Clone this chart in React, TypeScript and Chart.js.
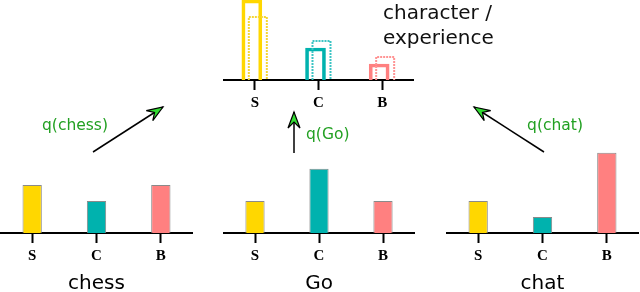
import React, { useEffect, useRef } from "react";
import { Chart, registerables } from "chart.js";

Chart.register(...registerables);

// ---- data ----
const categories = ["S", "C", "B"];
const chessValues = [3, 2, 3];
const goValues = [2, 4, 2];
const chatValues = [2, 1, 5];
const characterValues = [5, 2, 1];
const experienceValues = [4, 2.5, 1.5];
const panelTitles = ["chess", "Go", "chat"];
const queryLabels = ["q(chess)", "q(Go)", "q(chat)"];
const topLabelLines = ["character /", "experience"];

// ---- styles ----
const fillColors = ["#FFD700", "#00B2AE", "#FF8080"];
const lightColors = ["#F5D634", "#3CC4C4", "#FF9494"];
const greenText = "#22A022";
const arrowFill = "#33DD33";
const pairShift = 0.047; // horizontal shift of the two outline bars within a category

const dottedOutline = {
  id: "dottedOutline",
  afterDatasetsDraw(chart: any) {
    const ctx = chart.ctx;
    chart.data.datasets.forEach((ds: any, i: number) => {
      if (!ds.dotted) return;
      const meta = chart.getDatasetMeta(i);
      meta.data.forEach((bar: any, j: number) => {
        const { x, y, base, width } = bar.getProps(["x", "y", "base", "width"], true);
        const half = width / 2;
        ctx.save();
        ctx.strokeStyle = ds.dottedColors[j];
        ctx.lineWidth = 2;
        ctx.setLineDash([2, 1]);
        ctx.beginPath();
        ctx.moveTo(x - half + 1, base);
        ctx.lineTo(x - half + 1, y + 1);
        ctx.lineTo(x + half - 1, y + 1);
        ctx.lineTo(x + half - 1, base);
        ctx.stroke();
        ctx.restore();
      });
    });
  },
};

const xGrid = {
  offset: false,
  drawOnChartArea: false,
  drawTicks: true,
  tickLength: 10,
  tickWidth: 2,
  tickColor: "#000",
};
const xBorder = { display: true, color: "#000", width: 2 };
const tickFont = { family: "'Liberation Serif', serif", size: 15, weight: "bold", lineHeight: 1 };

type PanelProps = {
  left: number;
  top: number;
  width: number;
  height: number;
  data: any;
  xScale: any;
  yMax: number;
  extra?: any;
};

function BarPanel({ left, top, width, height, data, xScale, yMax, extra }: PanelProps) {
  const ref = useRef<HTMLCanvasElement | null>(null);
  useEffect(() => {
    if (!ref.current) return;
    const chart = new Chart(ref.current, {
      type: "bar",
      data,
      options: {
        responsive: false,
        animation: false,
        devicePixelRatio: 1,
        layout: { padding: 0 },
        ...(extra || {}),
        plugins: { legend: { display: false }, tooltip: { enabled: false }, title: { display: false } },
        scales: {
          x: xScale,
          y: { display: false, min: 0, max: yMax },
        },
      } as any,
      plugins: [dottedOutline],
    });
    return () => chart.destroy();
  }, []);
  return (
    <canvas
      ref={ref}
      width={width}
      height={height}
      style={{ position: "absolute", left, top, width, height }}
    />
  );
}

function bottomPanelProps(values: number[], title: string) {
  return {
    data: {
      labels: categories,
      datasets: [
        {
          data: values,
          backgroundColor: fillColors,
          borderColor: "#8A8A8A",
          borderWidth: 1,
        },
      ],
    },
    xScale: {
      z: 1,
      offset: true,
      grid: xGrid,
      border: xBorder,
      ticks: { color: "#000", padding: 6, font: tickFont },
      title: {
        display: true,
        text: title,
        color: "#000",
        padding: { top: 2, bottom: 0 },
        font: { family: "'DejaVu Sans', sans-serif", size: 20 },
      },
    },
    extra: { categoryPercentage: 1, barPercentage: 0.3 },
  };
}

const topData = {
  datasets: [
    {
      data: characterValues.map((v, i) => ({ x: i - pairShift, y: v })),
      backgroundColor: "rgba(0,0,0,0)",
      borderColor: fillColors,
      borderWidth: 3,
      borderSkipped: "bottom",
    },
    {
      data: experienceValues.map((v, i) => ({ x: i + pairShift, y: v })),
      backgroundColor: "rgba(0,0,0,0)",
      borderWidth: 0,
      dotted: true,
      dottedColors: lightColors,
    },
  ],
};

const topXScale = {
  type: "linear",
  offset: false,
  z: 1,
  min: -0.5,
  max: 2.5,
  grid: xGrid,
  border: xBorder,
  afterBuildTicks: (scale: any) => {
    scale.ticks = categories.map((_, i) => ({ value: i }));
  },
  ticks: {
    color: "#000",
    padding: 6,
    font: tickFont,
    callback: (v: any) => categories[Math.round(Number(v))] ?? "",
  },
};

function arrowHead(tx: number, ty: number, fx: number, fy: number) {
  const ang = Math.atan2(ty - fy, tx - fx);
  const len = 16;
  const w = 6;
  const notch = 10;
  const ux = Math.cos(ang), uy = Math.sin(ang);
  const px = -uy, py = ux;
  const bx = tx - ux * len, by = ty - uy * len;
  const nx = tx - ux * notch, ny = ty - uy * notch;
  const pts = [
    [tx, ty],
    [bx + px * w, by + py * w],
    [nx, ny],
    [bx - px * w, by - py * w],
  ];
  return pts.map((p) => p.join(",")).join(" ");
}

const arrows = [
  { fx: 93, fy: 152, tx: 163, ty: 107 },
  { fx: 294, fy: 153, tx: 294, ty: 112 },
  { fx: 544, fy: 152, tx: 474, ty: 107 },
];

export default function App() {
  const textStyle: React.CSSProperties = {
    position: "absolute",
    fontFamily: "'DejaVu Sans', sans-serif",
    lineHeight: 1,
    whiteSpace: "nowrap",
  };
  return (
    <div
      style={{
        position: "absolute",
        left: 0,
        top: 0,
        width: 640,
        height: 292,
        overflow: "hidden",
        background: "#fff",
      }}
    >
      <BarPanel
        left={223}
        top={0}
        width={191}
        height={117}
        yMax={5}
        data={topData}
        xScale={topXScale}
        extra={{ grouped: false, barThickness: 20 }}
      />
      <BarPanel left={0} top={140} width={193} height={156} yMax={5.8} {...bottomPanelProps(chessValues, panelTitles[0])} />
      <BarPanel left={223} top={140} width={192} height={156} yMax={5.8} {...bottomPanelProps(goValues, panelTitles[1])} />
      <BarPanel left={446} top={140} width={193} height={156} yMax={5.8} {...bottomPanelProps(chatValues, panelTitles[2])} />

      <svg width={640} height={292} style={{ position: "absolute", left: 0, top: 0 }}>
        {arrows.map((a, i) => (
          <g key={i}>
            <line x1={a.fx} y1={a.fy} x2={a.tx} y2={a.ty} stroke="#000" strokeWidth={1.5} />
            <polygon points={arrowHead(a.tx, a.ty, a.fx, a.fy)} fill={arrowFill} stroke="#000" strokeWidth={1.2} strokeLinejoin="miter" />
          </g>
        ))}
      </svg>

      <div style={{ ...textStyle, left: 75, top: 126, transform: "translate(-50%,-50%)", fontSize: 15.5, color: greenText }}>{queryLabels[0]}</div>
      <div style={{ ...textStyle, left: 306, top: 135, transform: "translate(0,-50%)", fontSize: 15.5, color: greenText }}>{queryLabels[1]}</div>
      <div style={{ ...textStyle, left: 555, top: 126, transform: "translate(-50%,-50%)", fontSize: 15.5, color: greenText }}>{queryLabels[2]}</div>

      <div style={{ ...textStyle, left: 383, top: 0, fontSize: 20, lineHeight: "25px", color: "#111" }}>
        {topLabelLines[0]}
        <br />
        {topLabelLines[1]}
      </div>
    </div>
  );
}
